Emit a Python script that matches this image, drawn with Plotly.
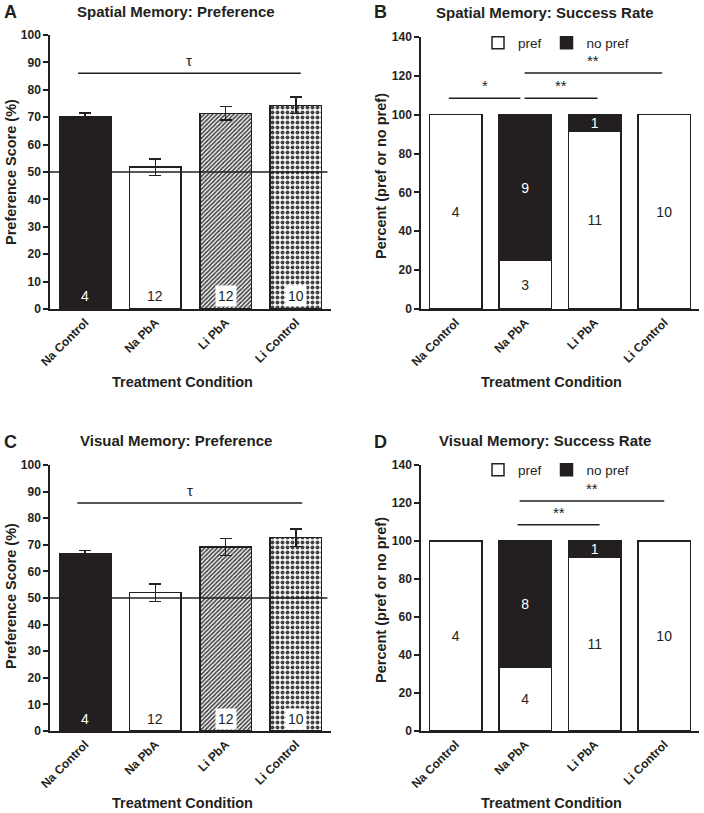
import plotly.graph_objects as go

W, H = 704, 813
FONT = "Liberation Sans, Arial, sans-serif"
INK = "#231f20"

# ---------------- data ----------------
conditions = ["Na Control", "Na PbA", "Li PbA", "Li Control"]

# Panel A: spatial memory preference score (%), mean and SEM
spatial_pref_mean = [70.0, 51.8, 71.4, 74.3]
spatial_pref_sem = [1.5, 3.0, 2.5, 3.0]
spatial_n = [4, 12, 12, 10]

# Panel B: spatial memory success (counts of animals)
spatial_pref_count = [4, 3, 11, 10]
spatial_nopref_count = [0, 9, 1, 0]

# Panel C: visual memory preference score (%), mean and SEM
visual_pref_mean = [66.8, 52.0, 69.1, 72.7]
visual_pref_sem = [1.0, 3.3, 3.2, 3.3]
visual_n = [4, 12, 12, 10]

# Panel D: visual memory success (counts of animals)
visual_pref_count = [4, 4, 11, 10]
visual_nopref_count = [0, 8, 1, 0]

chance_level = 50
yticks_pref = list(range(0, 101, 10))
yticks_pct = list(range(0, 141, 20))

# significance brackets: (from category pos, to category pos, height, label)
brackets_A = [(-0.1, 3.07, 86, "τ")]
brackets_B = [(-0.1, 0.93, 108.5, "*"), (0.99, 2.04, 108.5, "**"), (0.99, 2.97, 121.5, "**")]
brackets_C = [(-0.11, 3.09, 85.7, "τ")]
brackets_D = [(0.89, 2.07, 108.5, "**"), (0.92, 3.0, 121, "**")]


def px(x):
    return x / W


def py(y):
    return 1 - y / H


fig = go.Figure()

bar_colors = [INK, "white", "white", "white"]
bar_patterns = ["", "", "/", "."]
pattern_sizes = [6, 6, 3, 5]
pattern_solid = [0.3, 0.3, 0.55, 0.5]
pattern_bg = ["white", "white", "#8a8a8a", "white"]


def add_pref(mean, sem, xa, ya):
    fig.add_trace(go.Bar(
        x=conditions, y=mean, width=0.73, xaxis=xa, yaxis=ya, showlegend=False,
        marker=dict(color=bar_colors, line=dict(color=INK, width=1.5),
                    pattern=dict(shape=bar_patterns, fgcolor="#000000", bgcolor=pattern_bg,
                                 fgopacity=1, size=pattern_sizes, solidity=pattern_solid)),
        error_y=dict(type="data", array=sem, color=INK, thickness=1.5, width=6),
    ))


def add_success(pref, nopref, xa, ya, legend):
    tot = [a + b for a, b in zip(pref, nopref)]
    pref_pct = [100 * a / t for a, t in zip(pref, tot)]
    nopref_pct = [100 * b / t for b, t in zip(nopref, tot)]
    fig.add_trace(go.Bar(
        x=conditions, y=pref_pct, width=0.76, name="pref", xaxis=xa, yaxis=ya,
        legend=legend, showlegend=True,
        marker=dict(color="white", line=dict(color=INK, width=1.5)),
        text=[str(v) if v > 0 else "" for v in pref], textposition="inside",
        insidetextanchor="middle", textangle=0, constraintext="none",
        textfont=dict(family=FONT, size=14, color=INK),
    ))
    fig.add_trace(go.Bar(
        x=conditions, y=nopref_pct, width=0.76, name="no pref", xaxis=xa, yaxis=ya,
        legend=legend, showlegend=True,
        marker=dict(color=INK, line=dict(color=INK, width=1.5)),
        text=[str(v) if v > 0 else "" for v in nopref], textposition="inside",
        insidetextanchor="middle", textangle=0, constraintext="none",
        textfont=dict(family=FONT, size=14, color="white"),
    ))


add_pref(spatial_pref_mean, spatial_pref_sem, "x", "y")
add_success(spatial_pref_count, spatial_nopref_count, "x2", "y2", "legend")
add_pref(visual_pref_mean, visual_pref_sem, "x3", "y3")
add_success(visual_pref_count, visual_nopref_count, "x4", "y4", "legend2")

tickfont = dict(family=FONT, size=12, color=INK, weight="bold")


def xcfg(domain, anchor):
    return dict(domain=domain, anchor=anchor, type="category", range=[-0.5, 3.5],
                showline=True, linecolor=INK, linewidth=1.5, ticks="", tickangle=-45,
                tickfont=tickfont, showgrid=False, zeroline=False, fixedrange=True,
                automargin=False)


def ycfg(domain, anchor, rng, vals):
    return dict(domain=domain, anchor=anchor, range=rng, tickvals=vals,
                showline=True, linecolor=INK, linewidth=1.5, ticks="outside",
                ticklen=5, tickwidth=1.5, tickcolor=INK, tickfont=tickfont,
                showgrid=False, zeroline=False, fixedrange=True, automargin=False)


dom_left = [px(50), px(331)]
dom_right = [px(421), px(699)]
dom_top = [py(309), py(35)]
dom_top_r = [py(309), py(37)]
dom_bot = [py(731), py(465)]

fig.update_layout(
    width=W, height=H, margin=dict(l=0, r=0, t=0, b=0, autoexpand=False),
    paper_bgcolor="white", plot_bgcolor="rgba(0,0,0,0)",
    barmode="stack",
    font=dict(family=FONT, color=INK),
    xaxis=xcfg(dom_left, "y"), yaxis=ycfg(dom_top, "x", [0, 100], yticks_pref),
    xaxis2=xcfg(dom_right, "y2"), yaxis2=ycfg(dom_top_r, "x2", [0, 140], yticks_pct),
    xaxis3=xcfg(dom_left, "y3"), yaxis3=ycfg(dom_bot, "x3", [0, 100], yticks_pref),
    xaxis4=xcfg(dom_right, "y4"), yaxis4=ycfg(dom_bot, "x4", [0, 140], yticks_pct),
    legend=dict(orientation="h", x=px(478), xanchor="left", y=py(43), yanchor="middle",
                font=dict(family=FONT, size=13.5, color=INK), bgcolor="rgba(0,0,0,0)",
                traceorder="normal"),
    legend2=dict(orientation="h", x=px(478), xanchor="left", y=py(470), yanchor="middle",
                 font=dict(family=FONT, size=13.5, color=INK), bgcolor="rgba(0,0,0,0)",
                 traceorder="normal"),
)

shapes = []
ann = []

# chance lines
for xa, ya in [("x", "y"), ("x3", "y3")]:
    shapes.append(dict(type="line", xref=xa, yref=ya, x0=-0.5, x1=3.45,
                       y0=chance_level, y1=chance_level, line=dict(color=INK, width=1.5)))

# brackets
for brs, xa, ya in [(brackets_A, "x", "y"), (brackets_B, "x2", "y2"),
                    (brackets_C, "x3", "y3"), (brackets_D, "x4", "y4")]:
    for x0, x1, yv, lab in brs:
        shapes.append(dict(type="line", xref=xa, yref=ya, x0=x0, x1=x1, y0=yv, y1=yv,
                           line=dict(color=INK, width=1.5)))
        ann.append(dict(xref=xa, yref=ya, x=(x0 + x1) / 2, y=yv, yshift=2,
                        xanchor="center", yanchor="bottom", text=lab, showarrow=False,
                        font=dict(family=FONT, size=15, color=INK)))

# n labels in preference panels
for ns, xa, ya in [(spatial_n, "x", "y"), (visual_n, "x3", "y3")]:
    for i, n in enumerate(ns):
        ann.append(dict(xref=xa, yref=ya, x=conditions[i], y=4.6, text=str(n),
                        showarrow=False, xanchor="center", yanchor="middle",
                        font=dict(family=FONT, size=14, color="white" if i == 0 else INK),
                        bgcolor="rgba(0,0,0,0)" if i == 0 else "white", borderpad=2))

# panel letters and titles
for lab, x, y in [("A", 10, 12), ("B", 381, 12), ("C", 10, 442), ("D", 380, 442)]:
    ann.append(dict(xref="paper", yref="paper", x=px(x), y=py(y), text=f"<b>{lab}</b>",
                    xanchor="center", yanchor="middle",
                    showarrow=False, font=dict(family=FONT, size=18, color=INK)))
for t, x, y in [("Spatial Memory: Preference", 176, 11),
                ("Spatial Memory: Success Rate", 545, 12),
                ("Visual Memory: Preference", 176, 440),
                ("Visual Memory: Success Rate", 545, 440)]:
    ann.append(dict(xref="paper", yref="paper", x=px(x), y=py(y), text=f"<b>{t}</b>",
                    xanchor="center", yanchor="middle",
                    showarrow=False, font=dict(family=FONT, size=15, color=INK)))

# axis titles
for t, x, y in [("Treatment Condition", 182, 382), ("Treatment Condition", 551, 382),
                ("Treatment Condition", 182, 803), ("Treatment Condition", 551, 803)]:
    ann.append(dict(xref="paper", yref="paper", x=px(x), y=py(y), text=f"<b>{t}</b>",
                    xanchor="center", yanchor="middle",
                    showarrow=False, font=dict(family=FONT, size=14.5, color=INK)))
for t, x, y in [("Preference Score (%)", 11, 172), ("Percent (pref or no pref)", 381, 176),
                ("Preference Score (%)", 11, 596), ("Percent (pref or no pref)", 381, 600)]:
    ann.append(dict(xref="paper", yref="paper", x=px(x), y=py(y), text=f"<b>{t}</b>",
                    xanchor="center", yanchor="middle",
                    textangle=-90, showarrow=False, font=dict(family=FONT, size=14.5, color=INK)))

fig.update_layout(shapes=shapes, annotations=ann)
fig.write_html("out.html", config={"displayModeBar": False},
               post_script="document.body.style.margin='0';document.body.style.overflow='hidden';")
